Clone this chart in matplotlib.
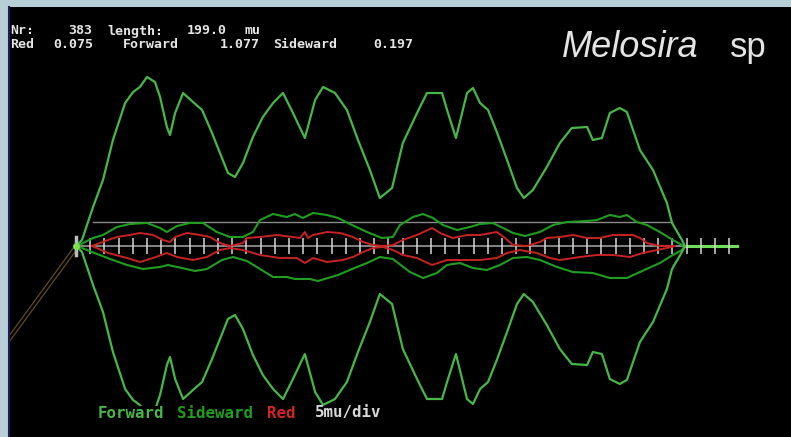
import numpy as np
import matplotlib.pyplot as plt
from matplotlib.patches import Rectangle

W, H = 791, 437

# position along the cell (mu) and envelope amplitudes
fwd_pos = [0.0, 2.1, 6.0, 9.5, 13.0, 17.3, 20.1, 22.5, 25.0, 27.8, 29.6, 32.0, 33.1, 34.9,
           37.7, 41.2, 44.4, 47.9, 50.7, 53.5, 56.0, 58.8, 62.3, 65.8, 69.4, 72.9, 76.4,
           80.6, 84.2, 87.0, 91.2, 95.4, 99.3, 103.5, 107.0, 111.3, 115.1, 120.1, 123.6,
           128.9, 131.0, 133.8, 137.7, 139.8, 142.3, 145.1, 148.2, 151.8, 155.3, 157.7,
           160.9, 165.8, 170.4, 174.6, 180.0, 182.0, 185.2, 188.0, 191.5, 194.0, 198.6,
           203.2, 208.1, 209.9, 213.4, 214.4]
fwd_amp = [0, 6, 39, 66, 106, 143, 154, 159, 169, 164, 149, 119, 111, 133,
           153, 144, 136, 113, 93, 73, 69, 83, 109, 129, 143, 153, 133,
           108, 146, 159, 153, 136, 106, 76, 48, 58, 103, 133, 153,
           153, 133, 108, 153, 158, 143, 136, 114, 86, 58, 48,
           56, 79, 103, 118, 119, 106, 108, 133, 138, 134, 96,
           76, 43, 23, 6, 0]

side_up_pos = [0.4, 6.0, 9.5, 14.4, 19.0, 25.0, 29.6, 32.0, 35.6, 40.1, 44.7, 49.6, 54.2,
               58.8, 62.3, 64.8, 69.4, 74.3, 77.1, 79.9, 83.5, 88.4, 92.3, 97.2, 102.5,
               107.7, 111.6, 114.1, 118.7, 122.2, 125.7, 129.2, 134.2, 138.7, 142.3, 146.8,
               150.4, 153.9, 158.1, 163.4, 168.0, 172.9, 180.0, 183.5, 188.0, 191.5, 194.0,
               197.5, 201.1, 205.6, 210.2, 213.4, 214.4]
side_up_amp = [0, 8, 11, 19, 22, 23, 18, 14, 20, 23, 23, 14, 9,
               9, 14, 26, 32, 29, 32, 28, 33, 31, 28, 21, 14,
               8, 9, 21, 29, 32, 28, 21, 16, 19, 22, 23,
               18, 13, 10, 14, 21, 24, 25, 26, 31, 29, 31,
               24, 21, 14, 6, 1, 0]

side_lo_pos = [0.4, 5.6, 12.0, 18.0, 23.6, 29.6, 32.4, 37.3, 41.9, 46.1, 51.4, 55.3, 60.2,
               64.8, 69.4, 74.3, 77.1, 82.4, 85.2, 88.7, 92.3, 97.2, 102.5, 107.0, 111.6,
               117.6, 122.2, 127.1, 130.6, 135.2, 139.8, 144.7, 149.3, 153.9, 158.8, 163.4,
               169.4, 175.0, 182.0, 188.0, 194.0, 198.6, 205.6, 210.2, 213.4, 214.4]
side_lo_amp = [0, 6, 13, 19, 23, 21, 19, 22, 25, 23, 14, 11, 15,
               23, 31, 31, 33, 33, 35, 32, 29, 23, 17, 11, 13,
               26, 32, 27, 19, 17, 22, 24, 19, 12, 11, 14,
               21, 26, 27, 32, 32, 26, 17, 9, 4, 0]

red_up_pos = [5.6, 11.3, 14.4, 19.0, 22.5, 27.1, 30.6, 33.1, 34.9, 39.1, 43.7, 47.2, 50.7,
              54.2, 58.8, 60.2, 64.8, 70.8, 76.4, 78.9, 80.6, 81.7, 83.5, 88.4, 93.0, 97.5,
              101.1, 104.6, 108.1, 111.6, 115.1, 120.1, 125.4, 128.2, 132.7, 137.7, 142.3,
              148.2, 151.1, 153.9, 158.8, 163.4, 165.8, 170.4, 175.0, 180.0, 184.5, 189.1,
              196.1, 198.6, 201.1, 205.6, 210.9]
red_up_amp = [0, 6, 9, 11, 13, 11, 6, 4, 9, 13, 11, 9, 3,
              0, 3, 8, 9, 11, 9, 8, 14, 8, 11, 14, 13, 9,
              4, 1, 0, 1, 6, 11, 18, 13, 8, 11, 11,
              14, 8, 1, 0, 4, 8, 9, 11, 8, 8, 11,
              11, 8, 3, 0, 0]

red_lo_pos = [5.6, 11.3, 18.0, 22.5, 27.1, 32.0, 35.6, 41.2, 46.1, 50.7, 54.2, 58.8, 64.8,
              71.8, 77.8, 80.6, 83.5, 88.4, 94.0, 97.5, 101.1, 104.6, 108.1, 111.6, 115.1,
              120.1, 125.4, 130.6, 136.3, 142.3, 148.2, 151.8, 156.3, 162.3, 166.9, 170.4,
              177.5, 183.5, 189.1, 195.1, 199.6, 204.6, 208.1, 210.9]
red_lo_amp = [0, 7, 12, 16, 12, 7, 11, 14, 11, 4, 2, 4, 9,
              12, 12, 17, 12, 16, 14, 11, 6, 2, 1, 4, 9,
              12, 19, 14, 14, 14, 12, 7, 4, 7, 12, 14,
              11, 9, 9, 11, 7, 4, 2, 0]

cell_length = 214.4
ref_level = 24
ref_span = (6.0, 209.9)
tick_step = 5
tick_end = 230
axis_end = 232.7
fwd_clip = -160

# header words and their x offsets (px), two rows
header_top = [("Nr:", 10), ("383", 68), ("length:", 107), ("199.0", 187), ("mu", 245)]
header_bot = [("Red", 10), ("0.075", 53), ("Forward", 123), ("1.077", 220),
              ("Sideward", 273), ("0.197", 373)]
legend_items = [("Forward", "#47b847", 98), ("Sideward", "#1f9e1f", 177),
                ("Red", "#d42525", 267), ("5mu/div", "#d8d8d8", 315)]

fwd_col = "#47b847"
side_col = "#1f9e1f"
red_col = "#c82222"

fig = plt.figure(figsize=(W / 100, H / 100), dpi=100)
fig.patch.set_facecolor("#b7ced6")
ax = fig.add_axes([9 / W, 0, 782 / W, 430 / H])
ax.set_facecolor("black")
ax.set_xlim(-23.6, 251.8)
ax.set_ylim(-191, 239)
ax.set_xticks([])
ax.set_yticks([])
for s in ["top", "right", "bottom"]:
    ax.spines[s].set_visible(False)
ax.spines["left"].set_color("#1c1c55")
ax.spines["left"].set_linewidth(1.5)

# pointer lines off to the left
ax.plot([-0.7, -23.6], [-1, -90], color="#5e4c22", lw=0.9)
ax.plot([0.4, -23.6], [-3, -96], color="#5e4c22", lw=0.9)

# centre axis and scale ticks
ax.plot([0, cell_length], [0, 0], color="#9a9a9a", lw=1.2)
ax.plot([cell_length, axis_end], [0, 0], color="#6ee05a", lw=2.2)
ticks = np.arange(0, tick_end + 1, tick_step)
ax.vlines(ticks, -8, 8, color="#d6d6d6", lw=1.3, alpha=0.85)
ax.plot([0, 0], [-9, 9], color="#bbbbbb", lw=2.5)

# reference level
ax.plot(ref_span, [ref_level, ref_level], color="#8a8a8a", lw=1.0)

# envelopes
ax.plot(red_up_pos, red_up_amp, color=red_col, lw=1.4)
ax.plot(red_lo_pos, -np.array(red_lo_amp), color=red_col, lw=1.4)
ax.plot(side_up_pos, side_up_amp, color=side_col, lw=1.5)
ax.plot(side_lo_pos, -np.array(side_lo_amp), color=side_col, lw=1.5)
ax.plot(fwd_pos, fwd_amp, color=fwd_col, lw=1.6)
low, = ax.plot(fwd_pos, -np.array(fwd_amp), color=fwd_col, lw=1.6)
clip = Rectangle((-30, fwd_clip), 300, 500, transform=ax.transData)
low.set_clip_path(clip)
ax.plot([0], [0], "o", color="#7ee04a", ms=4)


def px(x, y):
    return x / W, 1 - y / H


small = dict(family="DejaVu Sans Mono", fontweight="bold", fontsize=9.5, va="center",
             color="#e6e6e6")
for word, x in header_top:
    fig.text(*px(x, 31), word, **small)
for word, x in header_bot:
    fig.text(*px(x, 45), word, **small)

mono = dict(family="DejaVu Sans Mono", fontweight="bold", fontsize=11.3, va="center")
for label, col, x in legend_items:
    fig.text(*px(x, 413), label, color=col, **mono)

fig.text(*px(562, 57), "Melosira", family="Liberation Sans", style="italic",
         fontsize=26, color="#e4e4e4", va="baseline")
fig.text(*px(730, 57), "sp", family="Liberation Sans",
         fontsize=25, color="#e4e4e4", va="baseline")

fig.savefig("out.png", dpi=100, facecolor=fig.get_facecolor())
